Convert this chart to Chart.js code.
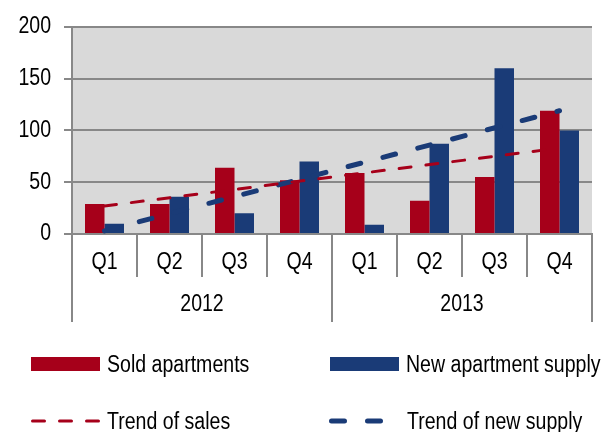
<!DOCTYPE html>
<html><head><meta charset="utf-8">
<script src="https://cdn.jsdelivr.net/npm/chart.js@4.4.0/dist/chart.umd.min.js"></script>
<style>
html,body{margin:0;padding:0;background:#fff;}
#wrap{position:relative;width:611px;height:432px;font-family:'Liberation Sans',Arial,sans-serif;overflow:hidden;}
canvas{position:absolute;left:0;top:0;}
.leg{position:absolute;font-size:23px;color:#000;line-height:28px;white-space:nowrap;transform:scaleX(0.85);transform-origin:0 50%;}
.sw{position:absolute;}
</style></head><body>
<div id="wrap">
<canvas id="c" width="611" height="432"></canvas>
<svg class="sw" style="left:31px;top:357px" width="69" height="14"><rect width="69" height="14" fill="#A6001A"/></svg>
<div class="leg" style="left:107px;top:350px">Sold apartments</div>
<svg class="sw" style="left:330px;top:357px" width="69" height="14"><rect width="69" height="14" fill="#1A3B77"/></svg>
<div class="leg" style="left:406px;top:350px">New apartment supply</div>
<svg class="sw" style="left:31px;top:413px" width="72" height="16"><line x1="1.5" y1="8" x2="68.5" y2="8" stroke="#A6001A" stroke-width="3" stroke-dasharray="12 15" stroke-linecap="round"/></svg>
<div class="leg" style="left:107px;top:407px">Trend of sales</div>
<svg class="sw" style="left:329px;top:413px" width="58" height="16"><line x1="2.5" y1="8" x2="52" y2="8" stroke="#1A3B77" stroke-width="5" stroke-dasharray="13 23" stroke-linecap="round"/></svg>
<div class="leg" style="left:407px;top:407px">Trend of new supply</div>
</div>
<script>
const quarters = ['Q1','Q2','Q3','Q4','Q1','Q2','Q3','Q4'];
const years = ['2012','2013'];
const soldApartments = [29,29,64,52,59,32,55,119];
const newSupply = [10,36,20,70,9,87,160,100];
const trendSales = [27,null,null,null,null,null,null,83];
const trendSupply = [3,null,null,null,null,null,null,119];
const yTicks = [0,50,100,150,200];

const RED = '#A6001A', BLUE = '#1A3B77', GRID = '#888888', FONT = "'Liberation Sans',Arial,sans-serif";
Chart.defaults.font.family = FONT;
Chart.defaults.font.size = 23;
Chart.defaults.color = '#000';

// plot background + condensed tick text (emulates a narrow typeface)
const bgPlugin = {
  id: 'bg',
  beforeDraw(chart) {
    const {ctx, chartArea: a} = chart;
    ctx.save();
    ctx.fillStyle = '#d9d9d9';
    ctx.fillRect(a.left, a.top, a.right - a.left, a.bottom - a.top);
    ctx.restore();
    if (!ctx._origFillText) {
      ctx._origFillText = ctx.fillText;
      ctx.fillText = function(t, x, y, mw) {
        this.save();
        this.translate(x, y);
        this.scale(0.85, 1);
        this._origFillText(t, 0, 0);
        this.restore();
      };
    }
  }
};

new Chart(document.getElementById('c'), {
  type: 'bar',
  data: {
    labels: quarters,
    datasets: [
      {type:'line', label:'Trend of sales', data: trendSales, borderColor: RED, borderWidth: 3, borderDash:[12,15], borderCapStyle:'round', pointRadius:0, spanGaps:true, fill:false, order:0},
      {type:'line', label:'Trend of new supply', data: trendSupply, borderColor: BLUE, borderWidth: 5, borderDash:[13,23], borderCapStyle:'round', pointRadius:0, spanGaps:true, fill:false, order:0},
      {label:'Sold apartments', data: soldApartments, backgroundColor: RED, categoryPercentage:0.6, barPercentage:1.0, order:1},
      {label:'New apartment supply', data: newSupply, backgroundColor: BLUE, categoryPercentage:0.6, barPercentage:1.0, order:1}
    ]
  },
  options: {
    responsive: false,
    animation: false,
    layout: {padding: {top: 24, right: 19, bottom: 110, left: 0}},
    plugins: {legend: {display: false}, tooltip: {enabled: false}},
    scales: {
      x: {
        type: 'category', position: 'bottom', weight: 0, offset: true,
        grid: {offset: true, drawOnChartArea: false, drawTicks: true, tickLength: 43, color: GRID, lineWidth: 2},
        border: {display: true, color: GRID, width: 2},
        ticks: {padding: -28, maxRotation: 0, minRotation: 0, autoSkip: false, font: {size: 23}},
        afterFit(s) { s.height = 43; }
      },
      year: {
        type: 'category', labels: years, position: 'bottom', weight: 1, offset: true,
        grid: {offset: true, drawOnChartArea: false, drawTicks: true, tickLength: 45, color: GRID, lineWidth: 2},
        border: {display: false},
        ticks: {padding: -31, maxRotation: 0, minRotation: 0, autoSkip: false, font: {size: 23}},
        afterFit(s) { s.height = 45; }
      },
      y: {
        position: 'left', min: 0, max: 200,
        grid: {color: GRID, lineWidth: 2, drawTicks: true, tickLength: 8},
        border: {display: true, color: GRID, width: 2},
        ticks: {padding: 13, font: {size: 23}},
        afterBuildTicks(s) { s.ticks = yTicks.map(v => ({value: v})); },
        afterFit(s) { s.width = 72; }
      }
    }
  },
  plugins: [bgPlugin]
});
</script>
</body></html>
